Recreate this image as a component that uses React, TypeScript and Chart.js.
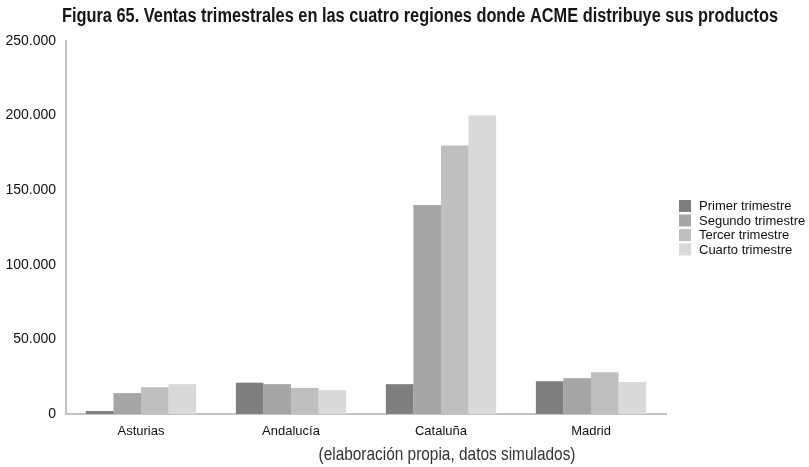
import React, { useEffect, useRef } from "react";
import { Chart, registerables } from "chart.js";

Chart.register(...registerables);

const regions = ["Asturias", "Andalucía", "Cataluña", "Madrid"];
const seriesNames = ["Primer trimestre", "Segundo trimestre", "Tercer trimestre", "Cuarto trimestre"];
const primer = [2000, 21000, 20000, 22000];
const segundo = [14000, 20000, 140000, 24000];
const tercer = [18000, 17500, 180000, 28000];
const cuarto = [20000, 16000, 200000, 21500];
const seriesColors = ["#7f7f7f", "#a6a6a6", "#bfbfbf", "#d9d9d9"];
const titleText = "Figura 65. Ventas trimestrales en las cuatro regiones donde ACME distribuye sus productos";
const captionText = "(elaboración propia, datos simulados)";

const fmt = (v: number) => String(Math.round(v)).replace(/\B(?=(\d{3})+(?!\d))/g, ".");

function fitText(ctx: any, text: string, cx: number, cy: number, width: number) {
  const w = ctx.measureText(text).width;
  ctx.save();
  ctx.translate(cx, cy);
  ctx.scale(width / w, 1);
  ctx.fillText(text, 0, 0);
  ctx.restore();
}

const textPlugin = {
  id: "texts",
  afterDraw(chart: any) {
    const ctx = chart.ctx;
    ctx.save();
    ctx.fillStyle = "#161616";
    ctx.textAlign = "center";
    ctx.textBaseline = "middle";
    ctx.font = 'bold 20px "Liberation Sans", Arial, sans-serif';
    fitText(ctx, titleText, 420, 16, 716);
    ctx.fillStyle = "#333";
    ctx.font = '19px "Liberation Sans", Arial, sans-serif';
    fitText(ctx, captionText, 447, 455, 257);
    // legend
    ctx.textAlign = "left";
    ctx.font = '13px "Liberation Sans", Arial, sans-serif';
    chart.data.datasets.forEach((ds: any, i: number) => {
      const y = 206 + i * 14.5;
      ctx.fillStyle = ds.backgroundColor;
      ctx.fillRect(679, y - 6, 12, 12);
      ctx.fillStyle = "#111";
      ctx.fillText(ds.label, 699, y + 0.5);
    });
    ctx.restore();
  },
};

export default function App() {
  const ref = useRef<HTMLCanvasElement>(null);
  useEffect(() => {
    const data = [primer, segundo, tercer, cuarto];
    const chart = new Chart(ref.current!, {
      type: "bar",
      data: {
        labels: regions,
        datasets: seriesNames.map((n, i) => ({
          label: n,
          data: data[i],
          backgroundColor: seriesColors[i],
          borderWidth: 0,
          categoryPercentage: 0.735,
          barPercentage: 1,
        })),
      },
      options: {
        animation: false,
        responsive: false,
        layout: { padding: { top: 41, left: 0, right: 143, bottom: 0 } },
        plugins: {
          legend: { display: false },
          tooltip: { enabled: false },
        },
        scales: {
          x: {
            grid: { display: false, drawTicks: false },
            border: { color: "#c4c4c4", width: 2 },
            ticks: {
              color: "#111",
              padding: 10,
              font: { family: '"Liberation Sans", Arial, sans-serif', size: 13 },
            },
            afterFit: (s: any) => { s.height = 53; },
          },
          y: {
            min: 0,
            max: 250000,
            grid: { display: false, drawTicks: false },
            border: { color: "#c4c4c4", width: 2 },
            ticks: {
              stepSize: 50000,
              color: "#111",
              padding: 10,
              font: { family: '"Liberation Sans", Arial, sans-serif', size: 14 },
              callback: (v: any) => fmt(Number(v)),
            },
            afterFit: (s: any) => { s.width = 66; },
          },
        },
      },
      plugins: [textPlugin],
    });
    return () => chart.destroy();
  }, []);
  return (
    <div style={{ position: "fixed", left: 0, top: 0, width: 809, height: 467, background: "#fff" }}>
      <canvas ref={ref} width={809} height={467} style={{ display: "block" }} />
    </div>
  );
}
